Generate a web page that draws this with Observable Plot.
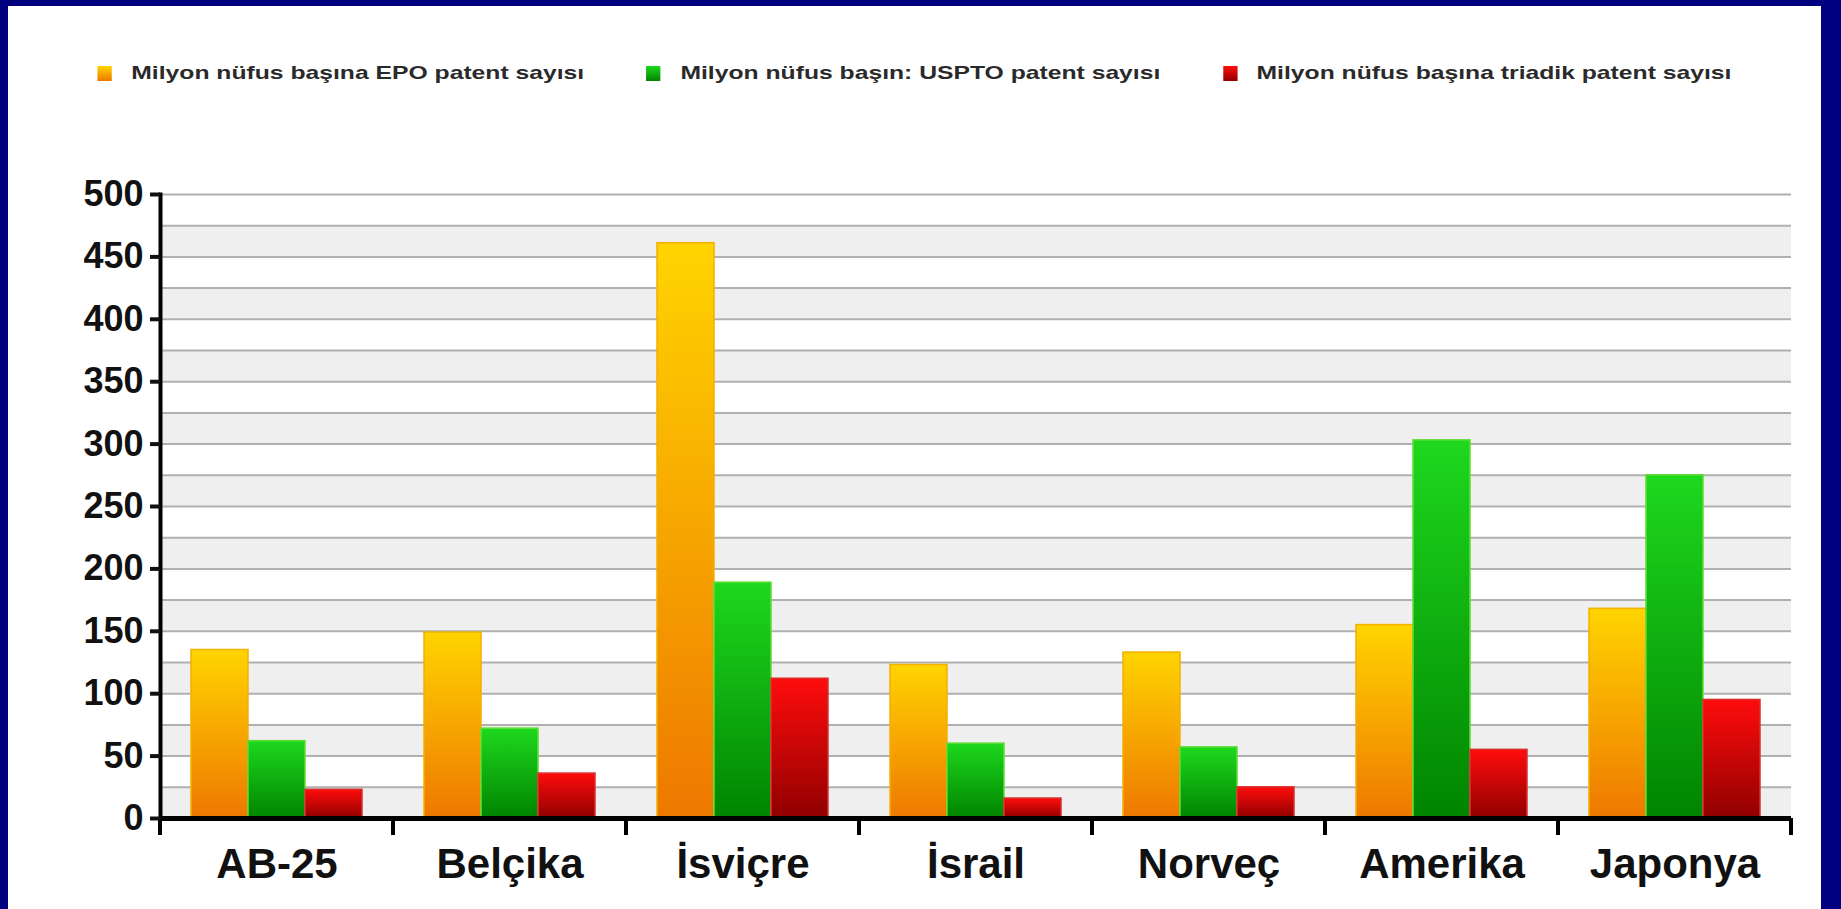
<!DOCTYPE html>
<html>
<head>
<meta charset="utf-8">
<script src="https://cdn.jsdelivr.net/npm/d3@7"></script>
<script src="https://cdn.jsdelivr.net/npm/@observablehq/plot@0.6"></script>
<style>
  html, body { margin: 0; padding: 0; background: #000080; width: 1841px; height: 909px; overflow: hidden; }
  #panel { position: absolute; left: 8px; top: 6px; width: 1813px; height: 903px; background: #fff;
           font-family: "Liberation Sans", Arial, sans-serif; }
  #legend { position: absolute; left: 0; top: 56px; width: 100%; display: flex; justify-content: center; }
  #legend .row { display: flex; align-items: center; transform: scaleX(1.3); transform-origin: center; }
  #legend .item { display: flex; align-items: center; margin: 0 24px; }
  #legend .swatch { width: 11px; height: 15px; margin-right: 15px; }
  #legend .label { font-size: 19px; font-weight: bold; color: #2a2a2a; white-space: nowrap; }
  #chart { position: absolute; left: 0; top: 104px; }
</style>
</head>
<body>
<div id="panel">
  <div id="legend"><div class="row"></div></div>
  <div id="chart"></div>
</div>
<script>
// Patents per million inhabitants, by country group
const categories = ["AB-25", "Belçika", "İsviçre", "İsrail", "Norveç", "Amerika", "Japonya"];
const seriesNames = [
  "Milyon nüfus başına EPO patent sayısı",
  "Milyon nüfus başın: USPTO patent sayısı",
  "Milyon nüfus başına triadik patent sayısı"
];
const epoValues = [135, 149, 461, 123, 133, 155, 168];
const usptoValues = [62, 72, 189, 60, 57, 303, 275];
const triadicValues = [23, 36, 112, 16, 25, 55, 95];
const yTickValues = [0, 50, 100, 150, 200, 250, 300, 350, 400, 450, 500];
const gridValues = [0, 25, 50, 75, 100, 125, 150, 175, 200, 225, 250, 275, 300, 325, 350, 375, 400, 425, 450, 475, 500];

// Bar styling per series: gradient id, gradient stops, outline
const seriesStyle = [
  {id: "grad-epo", top: "#ffd400", bottom: "#ee7800", stroke: "#f2b000"},
  {id: "grad-uspto", top: "#1ed81e", bottom: "#008400", stroke: "#5ede34"},
  {id: "grad-triadic", top: "#ff0c0c", bottom: "#900000", stroke: "#d83030"}
];

const valuesBySeries = [epoValues, usptoValues, triadicValues];
const rows = categories.flatMap((category, i) =>
  seriesNames.map((series, j) => ({category, series, value: valuesBySeries[j][i]}))
);

// Legend
const legendRow = d3.select("#legend .row");
seriesNames.forEach((name, j) => {
  const item = legendRow.append("div").attr("class", "item");
  item.append("div").attr("class", "swatch")
    .style("background", `linear-gradient(${seriesStyle[j].top}, ${seriesStyle[j].bottom})`);
  item.append("span").attr("class", "label").text(name);
});

// Tick marks at the group boundaries below the baseline
const boundaryTicks = (index, {y}, values, {marginLeft, marginRight, width}) => {
  const g = d3.create("svg:g").attr("stroke", "#000").attr("stroke-width", 4);
  for (const x of [marginLeft, width - marginRight]) {
    g.append("line").attr("x1", x).attr("x2", x).attr("y1", y(0)).attr("y2", y(0) + 17);
  }
  return g.node();
};

const bandStarts = gridValues.filter((v) => v % 50 === 0 && v < 500);

const chart = Plot.plot({
  width: 1813,
  height: 799,
  marginTop: 84,
  marginBottom: 91,
  marginLeft: 150,
  marginRight: 28,
  style: {fontFamily: "'Liberation Sans', Arial, sans-serif", color: "#111", background: "transparent"},
  fx: {domain: categories, padding: 0, label: null},
  x: {domain: seriesNames, paddingInner: 0, paddingOuter: 0.525, axis: null},
  y: {domain: [0, 500], axis: null},
  marks: [
    Plot.rectY(bandStarts, {y1: (d) => d, y2: (d) => d + 25, fill: "#efefef"}),
    Plot.ruleY(gridValues, {stroke: "#b0b0b0", strokeWidth: 2}),
    ...seriesNames.map((name, j) =>
      Plot.barY(rows.filter((r) => r.series === name), {
        fx: "category",
        x: "series",
        y: "value",
        fill: `url(#${seriesStyle[j].id})`,
        stroke: seriesStyle[j].stroke,
        strokeWidth: 1.5
      })
    ),
    Plot.ruleY([0], {stroke: "#000", strokeWidth: 5}),
    Plot.frame({anchor: "left", facetAnchor: "left", stroke: "#000", strokeWidth: 4}),
    boundaryTicks,
    Plot.axisY({
      ticks: yTickValues,
      tickSize: 10,
      tickPadding: 7,
      strokeWidth: 4,
      fontSize: 36,
      fontWeight: "bold",
      label: null
    }),
    Plot.axisFx({
      anchor: "bottom",
      tickSize: 0,
      tickPadding: 30,
      fontSize: 42,
      fontWeight: "bold",
      label: null
    })
  ]
});

// Vertical gradients used by the bar fills
const defs = d3.select(chart).insert("defs", ":first-child");
seriesStyle.forEach((s) => {
  const lg = defs.append("linearGradient").attr("id", s.id)
    .attr("x1", 0).attr("y1", 0).attr("x2", 0).attr("y2", 1);
  lg.append("stop").attr("offset", "0%").attr("stop-color", s.top);
  lg.append("stop").attr("offset", "100%").attr("stop-color", s.bottom);
});

document.getElementById("chart").appendChild(chart);
</script>
</body>
</html>
